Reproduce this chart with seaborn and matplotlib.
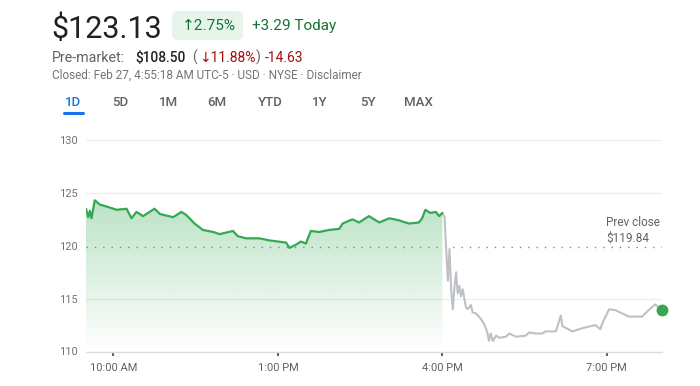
import numpy as np
import pandas as pd
import seaborn as sns
import matplotlib.pyplot as plt
from matplotlib.patches import FancyBboxPatch
from matplotlib.transforms import IdentityTransform

# regular session (hour of day) and price
day_hours = [9.50, 9.54, 9.57, 9.60, 9.66, 9.75, 9.88, 10.06, 10.24, 10.33, 10.42,
             10.54, 10.75, 10.85, 11.09, 11.24, 11.33, 11.48, 11.63, 11.82, 11.94,
             12.18, 12.27, 12.42, 12.66, 12.85, 13.15, 13.21, 13.33, 13.42, 13.51,
             13.60, 13.75, 13.94, 14.12, 14.18, 14.36, 14.48, 14.66, 14.85, 15.03,
             15.21, 15.39, 15.57, 15.63, 15.69, 15.78, 15.88, 15.94, 16.00]
day_price = [123.5, 122.7, 123.3, 122.6, 124.3, 123.9, 123.7, 123.4, 123.5, 122.6, 123.2,
             122.8, 123.5, 123.0, 122.7, 123.2, 122.9, 122.1, 121.5, 121.3, 121.1,
             121.4, 120.9, 120.7, 120.7, 120.5, 120.3, 119.8, 120.1, 120.4, 120.2,
             121.4, 121.3, 121.5, 121.6, 122.1, 122.5, 122.2, 122.8, 122.2, 122.6,
             122.4, 122.1, 122.2, 122.6, 123.4, 123.1, 123.2, 122.8, 123.1]

# after hours
ext_hours = [16.00, 16.04, 16.07, 16.10, 16.13, 16.16, 16.19, 16.22, 16.25, 16.28,
             16.31, 16.34, 16.37, 16.40, 16.43, 16.46, 16.52, 16.55, 16.61, 16.70,
             16.76, 16.82, 16.85, 16.88, 16.92, 16.98, 17.04, 17.16, 17.22, 17.34,
             17.52, 17.58, 17.70, 17.82, 17.88, 18.07, 18.16, 18.19, 18.37, 18.55,
             18.79, 18.88, 18.92, 19.04, 19.16, 19.40, 19.64, 19.76, 19.88, 20.00]
ext_price = [123.1, 122.7, 119.6, 116.7, 119.7, 115.8, 114.0, 116.1, 117.5, 115.5,
             116.2, 115.2, 115.9, 115.0, 114.2, 114.0, 114.4, 113.7, 113.6, 113.1,
             112.6, 111.8, 111.0, 111.7, 111.0, 111.5, 111.3, 111.4, 111.7, 111.4,
             111.5, 111.8, 111.7, 111.7, 111.9, 111.9, 113.4, 112.4, 111.9, 112.2,
             112.5, 112.1, 112.7, 114.0, 113.9, 113.3, 113.3, 113.9, 114.45, 113.95]

prev_close = 119.84
y_ticks = [110, 115, 120, 125, 130]
x_ticks = [10, 13, 16, 19]
x_labels = ['10:00 AM', '1:00 PM', '4:00 PM', '7:00 PM']
tabs = ['1D', '5D', '1M', '6M', 'YTD', '1Y', '5Y', 'MAX']

GREEN = '#34a853'
GREY = '#5f6368'
W, H = 700, 386

sns.set_style('white')
plt.rcParams['font.family'] = ['Roboto', 'DejaVu Sans']

fig = plt.figure(figsize=(W / 100, H / 100), dpi=100)


def ft(x, y, s, **kw):
    ''' text at image pixel coords (y from top) '''
    kw.setdefault('va', 'baseline')
    return fig.text(x / W, 1 - y / H, s, **kw)


# header
ft(51, 38, '$123.13', fontsize=22, color='#202124')
fig.add_artist(FancyBboxPatch((172, H - 40), 71, 29,
                              boxstyle='round,pad=0,rounding_size=6',
                              transform=IdentityTransform(), fc='#e6f4ea', ec='none'))
ft(182, 30, '↑2.75%', fontsize=11, color='#137333')
ft(252, 30, '+3.29 Today', fontsize=11, color='#137333')

ft(52, 62, 'Pre-market:', fontsize=10.3, color=GREY)
ft(135, 62, '$108.50', fontsize=9.8, color='#202124', fontweight='medium')
ft(192, 62, '(', fontsize=10, color=GREY)
ft(199, 62, '↓11.88%', fontsize=10, color='#a50e0e')
ft(256, 62, ')', fontsize=10, color=GREY)
ft(265, 62, '-14.63', fontsize=10, color='#a50e0e')
ft(52, 79, 'Closed: Feb 27, 4:55:18 AM UTC-5 · USD · NYSE · Disclaimer',
   fontsize=8.5, color='#70757a')

# range tabs
tab_x = [73, 120, 168, 217, 270, 320, 368, 418]
for t, x in zip(tabs, tab_x):
    ft(x, 103, t, fontsize=9.5, ha='center', va='center',
       color='#1a73e8' if t == '1D' else GREY, fontweight='medium')
fig.add_artist(plt.Line2D([64, 83], [H - 113, H - 113], transform=IdentityTransform(),
                          color='#1a73e8', lw=2.2, solid_capstyle='round'))

# chart
ax = fig.add_axes([86 / W, 34.5 / H, 575.7 / W, 211.5 / H])
day = pd.DataFrame({'hour': day_hours, 'price': day_price})
ext = pd.DataFrame({'hour': ext_hours, 'price': ext_price})

for g in [115, 125, 130]:
    ax.axhline(g, color='#eeeff1', lw=1, zorder=0)
ax.axhline(prev_close, color='#80868b', lw=1, ls=(0, (1, 5)), zorder=1)

poly = ax.fill_between(day['hour'], day['price'], 110, color='none')
grad = np.zeros((256, 1, 4))
grad[..., :3] = plt.matplotlib.colors.to_rgb(GREEN)
grad[:, 0, 3] = np.linspace(0.34, 0.0, 256)
im = ax.imshow(grad, extent=[9.5, 16.0, 110, 124.5], aspect='auto', origin='upper', zorder=1)
im.set_clip_path(poly.get_paths()[0], transform=ax.transData)

sns.lineplot(data=ext, x='hour', y='price', ax=ax, color='#bdc1c6', lw=1.5, zorder=2)
sns.lineplot(data=day, x='hour', y='price', ax=ax, color=GREEN, lw=1.6, zorder=3)
ax.plot(ext_hours[-1], ext_price[-1], 'o', color=GREEN, ms=7.5, zorder=4, clip_on=False)

ax.set_xlim(9.5, 20.0)
ax.set_ylim(110, 130)
ax.set_xticks(x_ticks)
ax.set_xticklabels(x_labels)
ax.set_yticks(y_ticks)
ax.set_xlabel('')
ax.set_ylabel('')
for s in ['top', 'left', 'right']:
    ax.spines[s].set_visible(False)
ax.spines['bottom'].set_color('#dadce0')
ax.spines['bottom'].set_linewidth(1)
ax.tick_params(axis='x', length=3, width=1.5, color=GREY, pad=5, labelsize=8,
               labelcolor=GREY, bottom=True)
ax.tick_params(axis='y', length=0, pad=6, labelsize=8, labelcolor='#70757a')

ax.text(0.903, 0.505, 'Prev close\n$119.84', transform=ax.transAxes, fontsize=8.5,
        color=GREY, va='bottom', ha='left', linespacing=1.25)

fig.savefig('out.png', dpi=100)
